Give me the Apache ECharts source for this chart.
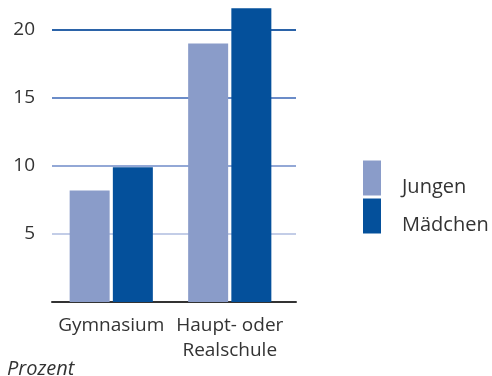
<!DOCTYPE html>
<html>
<head>
<meta charset="utf-8">
<script src="https://cdn.jsdelivr.net/npm/echarts@6/dist/echarts.min.js"></script>
<style>
  html, body { margin: 0; padding: 0; background: #fff; }
  #chart { width: 492px; height: 376px; }
</style>
</head>
<body>
<div id="chart"></div>
<script>
// Anteil nach Schulart, in Prozent
const categories = ['Gymnasium', 'Haupt- oder\nRealschule'];
const jungen = [8.2, 19.0];
const maedchen = [9.9, 21.6];
const yTicks = [0, 5, 10, 15, 20];

const FONT = 'Open Sans';
const TEXT = '#333333';

const chart = echarts.init(document.getElementById('chart'), null, { renderer: 'canvas' });

chart.setOption({
  animation: false,
  backgroundColor: '#ffffff',
  textStyle: { fontFamily: FONT, color: TEXT },
  title: {
    text: 'Prozent',
    left: 7,
    top: 359,
    padding: 0,
    textStyle: { fontFamily: FONT, fontStyle: 'italic', fontWeight: 'normal', fontSize: 20, color: TEXT }
  },
  legend: {
    orient: 'vertical',
    left: 363,
    top: 159,
    padding: 0,
    itemWidth: 18,
    itemHeight: 35,
    itemGap: 0,
    icon: 'rect',
    // blank first line pushes the name below the swatch centre
    formatter: name => '\n' + name,
    textStyle: { fontFamily: FONT, fontSize: 20, lineHeight: 18, color: TEXT, padding: [0, 0, 0, 16] },
    data: ['Jungen', 'Mädchen']
  },
  grid: [
    // grid for scale lines and axis labels
    { left: 52, right: 196, top: 30, bottom: 74 },
    // grid for the bars
    { left: 52, width: 237, top: 30, bottom: 74 }
  ],
  xAxis: [
    {
      gridIndex: 0,
      type: 'category',
      data: categories,
      axisLine: { show: true, lineStyle: { color: '#333333', width: 2 } },
      axisTick: { show: false },
      axisLabel: { show: false },
      splitLine: { show: false }
    },
    {
      gridIndex: 1,
      type: 'category',
      data: categories,
      axisLine: { show: false },
      axisTick: { show: false },
      axisLabel: { interval: 0, fontFamily: FONT, fontSize: 19, color: TEXT, margin: 11, lineHeight: 25 }
    }
  ],
  yAxis: [
    {
      gridIndex: 0,
      type: 'value',
      min: yTicks[0],
      max: yTicks[yTicks.length - 1],
      interval: 5,
      axisLine: { show: false },
      axisTick: { show: false },
      axisLabel: {
        fontFamily: FONT, fontSize: 19, color: TEXT, margin: 17,
        formatter: v => (v === 0 ? '' : String(v))
      },
      splitLine: {
        show: true,
        lineStyle: { width: 2, color: ['#333333', '#c3cde7', '#93a8d6', '#6b8cc8', '#2b63a8'] }
      }
    },
    {
      gridIndex: 1,
      type: 'value',
      min: yTicks[0],
      max: yTicks[yTicks.length - 1],
      interval: 5,
      show: false
    }
  ],
  series: [
    {
      name: 'Jungen',
      type: 'bar',
      xAxisIndex: 1,
      yAxisIndex: 1,
      data: jungen,
      barWidth: 40,
      barGap: '8%',
      clip: false,
      itemStyle: { color: '#8a9cc9' }
    },
    {
      name: 'Mädchen',
      type: 'bar',
      xAxisIndex: 1,
      yAxisIndex: 1,
      data: maedchen,
      barWidth: 40,
      barGap: '8%',
      clip: false,
      itemStyle: { color: '#04509b' }
    }
  ]
});
</script>
</body>
</html>
